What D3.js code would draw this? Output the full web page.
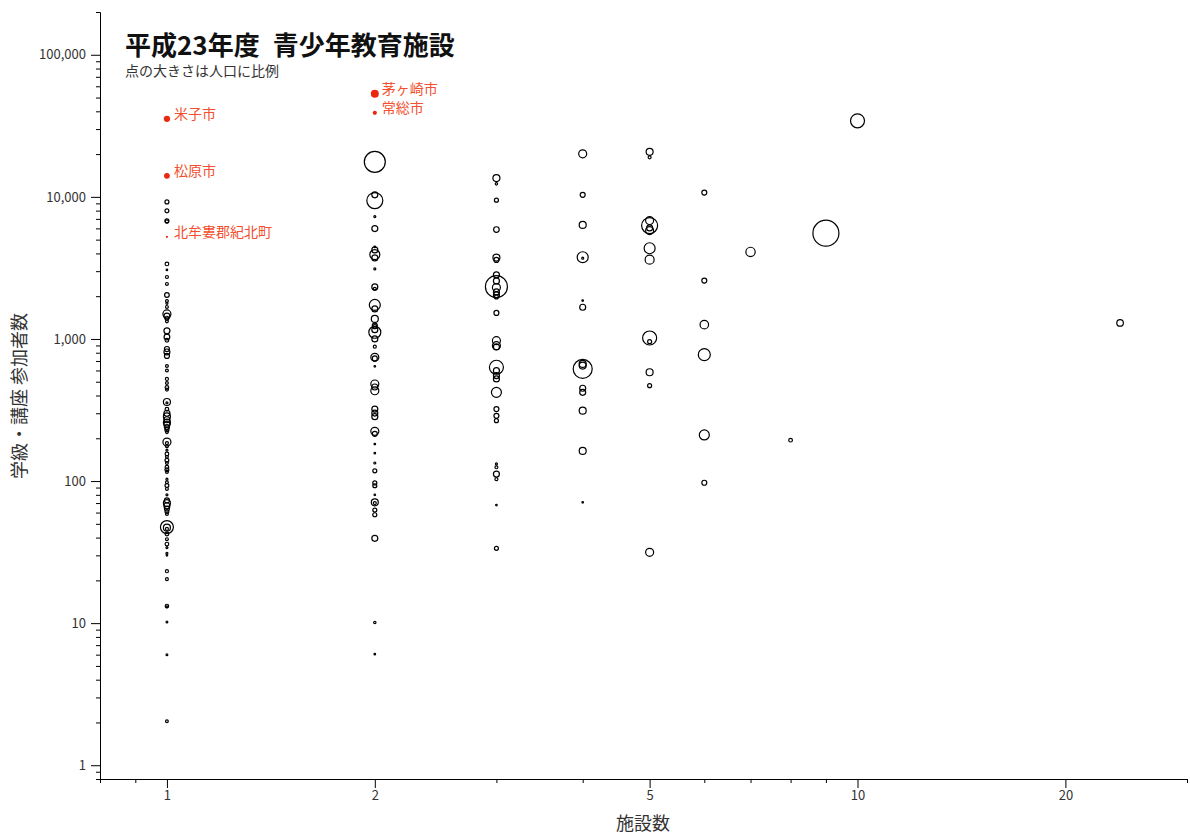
<!DOCTYPE html>
<html><head><meta charset="utf-8">
<script src="https://cdn.jsdelivr.net/npm/d3@7"></script>
<style>
body{margin:0;background:#fff}
text{font-family:"Noto Sans CJK JP","Noto Sans",sans-serif}
</style>
</head><body>
<svg id="chart" width="1190" height="837"></svg>
<script>
// [participants, population] per facility count
const fac1 = [[9220,59000],[7970,55000],[6780,59000],[6700,40000],[3375,50000],[3060,9000],[2730,33000],[2440,30000],[2040,80000],[1850,30000],[1780,15000],[1680,30000],[1500,237000],[1450,130000],[1400,55000],[1330,30000],[1140,133000],[1033,120000],[980,50000],[850,92000],[810,130000],[760,92000],[645,30000],[600,30000],[523,35000],[490,30000],[455,50000],[440,33000],[360,181000],[355,15000],[320,50000],[300,133000],[285,181000],[270,133000],[258,181000],[250,133000],[240,92000],[230,60000],[221,30000],[188,237000],[185,33000],[176,33000],[165,15000],[155,50000],[148,30000],[140,55000],[134,30000],[125,50000],[120,55000],[116,30000],[103,15000],[98,30000],[93,55000],[88,30000],[80,15000],[73,92000],[70,181000],[67,133000],[64,92000],[61,55000],[58.6,30000],[47.4,625000],[47,181000],[46,33000],[42.4,50000],[39,30000],[36,50000],[34,15000],[31,15000],[30,9000],[23.2,35000],[20.4,30000],[13.2,45000],[13,15000],[10.2,12000],[6.0,12000],[2.04,28000]];
const fac2 = [[17630,1630000],[10330,133000],[9420,947000],[7270,15000],[5980,133000],[4445,9500],[4235,133000],[3925,370000],[3720,133000],[3112,15000],[2324,133000],[2250,33000],[1735,447000],[1627,133000],[1383,181000],[1241,92000],[1220,60000],[1163,133000],[1115,533000],[1000,133000],[883,33000],[743,237000],[730,92000],[642,9500],[482,237000],[459,133000],[432,237000],[321,133000],[301,133000],[284,133000],[224,237000],[215,92000],[182,9500],[157,9500],[134,15000],[118,59000],[97,59000],[92.7,59000],[80,9500],[70.8,181000],[70,33000],[62.5,59000],[57.9,59000],[39.5,133000],[10.1,21000],[6.05,9500]];
const fac3 = [[13550,181000],[12350,21000],[9480,59000],[5890,115000],[3740,181000],[3600,92000],[2823,133000],[2335,1790000],[2300,237000],[2560,133000],[2143,133000],[2042,133000],[1976,59000],[1525,92000],[973,237000],[897,237000],[879,133000],[632,725000],[598,133000],[552,133000],[523,133000],[421,370000],[321,92000],[288,92000],[266,59000],[132,15000],[125,33000],[112,133000],[103,33000],[67.8,9500],[33.6,59000]];
const fac4 = [[20080,237000],[10330,92000],[6350,181000],[3760,447000],[3700,15000],[1862,9500],[1672,133000],[667,181000],[650,181000],[615,1335000],[450,133000],[421,133000],[313,181000],[163,181000],[70.8,9500]];
const fac5 = [[20750,181000],[18970,33000],[6810,237000],[6280,947000],[6050,133000],[5790,237000],[4350,447000],[3615,300000],[1016,725000],[957,59000],[583,181000],[469,59000],[31.5,237000]];
const fac6 = [[10720,92000],[2575,92000],[1261,270000],[775,533000],[211,370000],[97.3,92000]];
const fac7 = [[4100,320000]];
const fac8 = [[194,50000]];
const fac9 = [[5550,2500000]];
const fac10 = [[34290,725000]];
const fac24 = [[1297,160000]];

// highlighted municipalities
const hlNames = ["米子市","松原市","北牟婁郡紀北町","茅ヶ崎市","常総市"];
const hlFacilities = [1,1,1,2,2];
const hlParticipants = [35400,14060,5230,53100,39060];
const hlPopulation = [148271,124594,18600,235081,65320];

const xTickLabels = [1,2,5,10,20];
const yTickLabels = [1,10,100,1000,10000,100000];

const titleText = "平成23年度\u2002青少年教育施設";
const subtitleText = "点の大きさは人口に比例";
const xTitle = "施設数";
const yTitle = "学級・講座 参加者数";

const groups = [[1,fac1],[2,fac2],[3,fac3],[4,fac4],[5,fac5],[6,fac6],[7,fac7],[8,fac8],[9,fac9],[10,fac10],[24,fac24]];
const points = [];
groups.forEach(([f, arr]) => arr.forEach(([v,p]) => points.push({f, v, p})));
const highlights = hlNames.map((n,i) => ({name:n, f:hlFacilities[i], v:hlParticipants[i], p:hlPopulation[i]}));

const svg = d3.select("#chart");
const x = d3.scaleLog().domain([0.8,30]).range([100,1187]);
const y = d3.scaleLog().domain([0.8,200000]).range([779,12]);
const r = d3.scaleSqrt().domain([0,2500000]).range([0,13]);

const isIn = (arr,d) => arr.some(v => Math.abs(v-d) < 1e-9);

// axes
const gx = svg.append("g").attr("transform","translate(0,779)")
  .call(d3.axisBottom(x).tickSizeOuter(0).tickSize(4).tickFormat(d => isIn(xTickLabels,d) ? String(d) : ""));
gx.selectAll(".tick line").attr("y2", d => isIn(xTickLabels,d) ? 9 : 4);
gx.selectAll(".tick text").attr("y", 12).attr("font-size", 13).attr("fill","#333")
  .style("font-family","'Noto Sans CJK JP',sans-serif");

const gy = svg.append("g").attr("transform","translate(100,0)")
  .call(d3.axisLeft(y).tickSizeOuter(0).tickSize(4).tickFormat(d => isIn(yTickLabels,d) ? d3.format(",")(d) : ""));
gy.selectAll(".tick line").attr("x2", d => isIn(yTickLabels,d) ? -9 : -4);
gy.selectAll(".tick text").attr("x", -14).attr("font-size", 13).attr("fill","#333")
  .style("font-family","'Noto Sans CJK JP',sans-serif");

// bubbles
svg.append("g").selectAll("circle").data(points).join("circle")
  .attr("cx", d => x(d.f)).attr("cy", d => y(d.v)).attr("r", d => r(d.p))
  .attr("fill","none").attr("stroke","#000").attr("stroke-width",1.2);

const hg = svg.append("g");
hg.selectAll("circle").data(highlights).join("circle")
  .attr("cx", d => x(d.f)).attr("cy", d => y(d.v)).attr("r", d => r(d.p))
  .attr("fill","#e8290f");
hg.selectAll("text").data(highlights).join("text")
  .attr("x", d => x(d.f) + 7).attr("y", d => y(d.v))
  .attr("font-size", 14).attr("fill","#f2502f").text(d => d.name);

// titles
svg.append("text").attr("x",125).attr("y",55).attr("font-size",26).attr("font-weight","bold")
  .attr("fill","#111").text(titleText);
svg.append("text").attr("x",125).attr("y",76).attr("font-size",14).attr("fill","#333").text(subtitleText);
svg.append("text").attr("x",643).attr("y",830).attr("text-anchor","middle").attr("font-size",18)
  .attr("fill","#333").text(xTitle);
svg.append("text").attr("transform","translate(26,396) rotate(-90)").attr("text-anchor","middle")
  .attr("font-size",18).attr("fill","#333").text(yTitle);
</script>
</body></html>
